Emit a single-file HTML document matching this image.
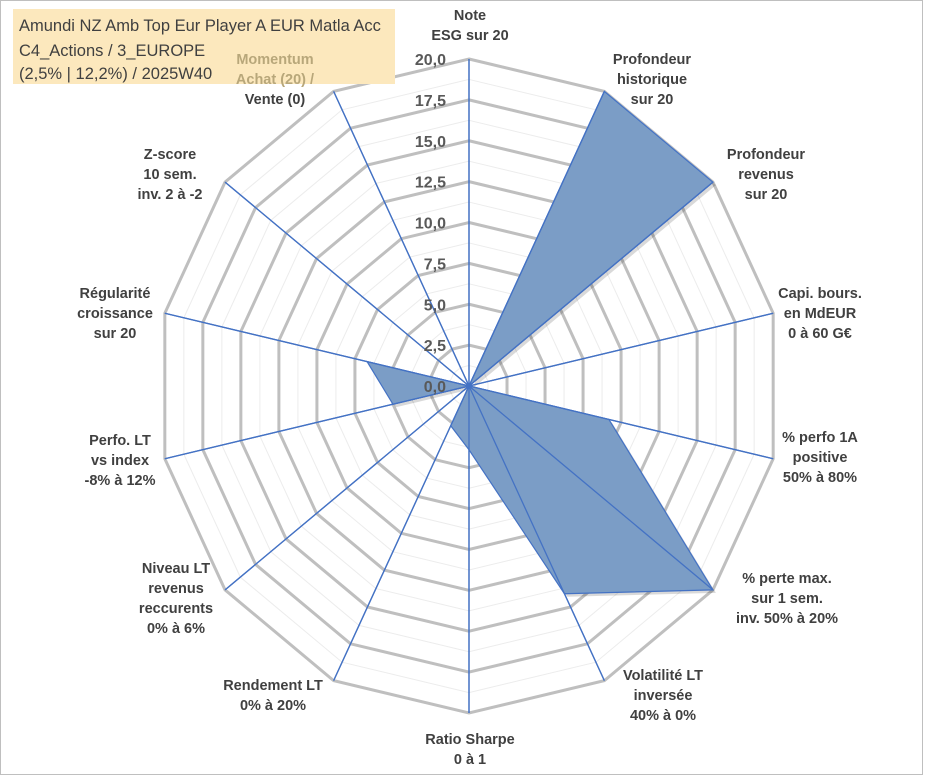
<!DOCTYPE html>
<html><head><meta charset="utf-8"><style>
html,body{margin:0;padding:0;background:#fff;}
svg{display:block;font-family:"Liberation Sans",sans-serif;}
.lbl{font-weight:bold;font-size:14.5px;fill:#404040;text-anchor:middle;}
.tick{font-weight:bold;font-size:16px;fill:#595959;text-anchor:end;}
</style></head><body>
<svg id="chart" width="933" height="776">
<rect x="0.5" y="0.5" width="922" height="774" fill="#fff" stroke="#bfbfbf"/>
<g id="grid"></g>
<g id="spokes"></g>
<g id="series"></g>
<g id="ticks"></g>
<g>
<rect x="13" y="9" width="382" height="75" fill="#fce8bd"/>
<text x="19" y="31" font-size="16.5" fill="#404040">Amundi NZ Amb Top Eur Player A EUR Matla Acc</text>
<text x="19" y="56" font-size="16.5" fill="#404040">C4_Actions / 3_EUROPE</text>
<text x="19" y="79" font-size="16.5" fill="#404040">(2,5% | 12,2%) / 2025W40</text>
</g>
<g id="labels"></g>
</svg>
<script>
const categories=["Note ESG sur 20","Profondeur historique sur 20","Profondeur revenus sur 20","Capi. bours. en MdEUR 0 à 60 G€","% perfo 1A positive 50% à 80%","% perte max. sur 1 sem. inv. 50% à 20%","Volatilité LT inversée 40% à 0%","Ratio Sharpe 0 à 1","Rendement LT 0% à 20%","Niveau LT revenus reccurents 0% à 6%","Perfo. LT vs index -8% à 12%","Régularité croissance sur 20","Z-score 10 sem. inv. 2 à -2","Momentum Achat (20) / Vente (0)"];
const values=[0,20,20,0,9.2,20,14.1,3.9,2.7,0,5.0,6.7,0,0];
const tickValues=[0,2.5,5,7.5,10,12.5,15,17.5,20];
const tickLabels=["0,0","2,5","5,0","7,5","10,0","12,5","15,0","17,5","20,0"];
const labelLines=[["Note","ESG sur 20"],["Profondeur","historique","sur 20"],["Profondeur","revenus","sur 20"],["Capi. bours.","en MdEUR","0 à 60 G€"],["% perfo 1A","positive","50% à 80%"],["% perte max.","sur 1 sem.","inv. 50% à 20%"],["Volatilité LT","inversée","40% à 0%"],["Ratio Sharpe","0 à 1"],["Rendement LT","0% à 20%"],["Niveau LT","revenus","reccurents","0% à 6%"],["Perfo. LT","vs index","-8% à 12%"],["Régularité","croissance","sur 20"],["Z-score","10 sem.","inv. 2 à -2"],["Momentum","Achat (20) /","Vente (0)"]];
const NS="http://www.w3.org/2000/svg";
const cx=469,cy=386,rx=312,ry=327,maxV=20,N=categories.length;
function pt(i,v){const a=i*2*Math.PI/N;return [cx+Math.sin(a)*rx*v/maxV, cy-Math.cos(a)*ry*v/maxV];}
function mk(tag,attrs,parent){const e=document.createElementNS(NS,tag);for(const k in attrs)e.setAttribute(k,attrs[k]);parent.appendChild(e);return e;}
const grid=document.getElementById('grid');
for(let v=1.25;v<=maxV+0.01;v+=1.25){
  const major=Math.abs(v/2.5-Math.round(v/2.5))<1e-6;
  const p=[];for(let i=0;i<N;i++)p.push(pt(i,v).join(','));
  const e=mk('polygon',{points:p.join(' '),fill:'none',stroke:major?'#bfbfbf':'#ececec','stroke-width':major?3:1},grid);
  
  
}
const sp=document.getElementById('spokes');
for(let i=0;i<N;i++){const [x,y]=pt(i,maxV);
  const e=mk('line',{x1:cx,y1:cy,x2:x,y2:y,stroke:'#4472c4','stroke-width':1.3},sp);
  
  }
const ser=document.getElementById('series');
const pts=values.map((v,i)=>pt(i,v).join(',')).join(' ');
const sh=mk('polygon',{points:pts,fill:'#000',opacity:0.15,transform:'translate(3,3)'},ser);


const poly=mk('polygon',{points:pts,fill:'#7b9dc6',stroke:'#4472c4','stroke-width':1.2},ser);


for(let i=0;i<N;i++){const [x,y]=pt(i,maxV);
  const e=mk('line',{x1:cx,y1:cy,x2:x,y2:y,stroke:'#4472c4','stroke-width':1.3},ser);
  
  }
const tk=document.getElementById('ticks');
tickValues.forEach((v,k)=>{const [x,y]=pt(0,v);
  const t=mk('text',{x:x-23,y:y+6,class:'tick'},tk);t.textContent=tickLabels[k];
  
  });
const pos=[[470,20],[652,64],[766,159],[820,298],[820,442],[787,583],[663,680],[470,744],[273,690],[176,573],[120,445],[115,298],[170,159],[275,64]];
const lb=document.getElementById('labels');
labelLines.forEach((lines,i)=>{
  const g=mk('text',{class:'lbl'},lb);
  
  
  lines.forEach((s,j)=>{const ts=mk('tspan',{x:pos[i][0],y:pos[i][1]+j*20},g);ts.textContent=s;
    if(i===13&&j<2)ts.setAttribute('fill','#b8a77a');});
});
</script>
</body></html>
